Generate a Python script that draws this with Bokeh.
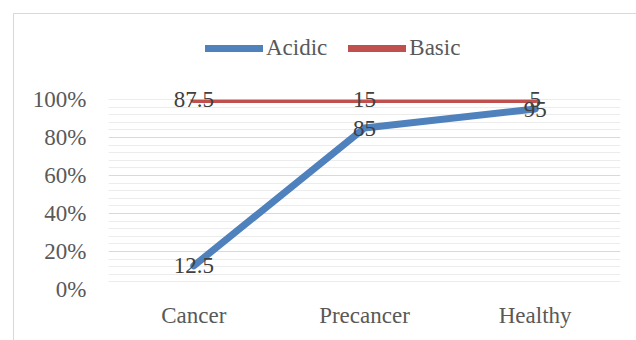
from bokeh.plotting import figure
from bokeh.models import (FactorRange, Range1d, FixedTicker, ColumnDataSource,
                          LabelSet, Legend, LegendItem, NumeralTickFormatter,
                          BoxAnnotation)
from bokeh.core.properties import value
from bokeh.embed import file_html
from bokeh.resources import INLINE

# ---- data ----
categories = ["Cancer", "Precancer", "Healthy"]
acidic = [12.5, 85, 95]
basic = [87.5, 15, 5]
series_names = ["Acidic", "Basic"]
y_ticks = [0, 0.2, 0.4, 0.6, 0.8, 1.0]

# 100% stacked positions
acid_pos = [a / 100 for a in acidic]
basic_pos = [(a + b) / 100 for a, b in zip(acidic, basic)]

src = ColumnDataSource(dict(
    x=categories,
    y_acid=acid_pos,
    y_basic=basic_pos,
    lab_acid=[f"{v:g}" for v in acidic],
    lab_basic=[f"{v:g}" for v in basic],
))

FONT = "Liberation Serif"

# layout (pixels): frame spans whole canvas height above the x axis,
# the 100% gridline sits 85 px below the canvas top
FRAME_H = 275
GRID_H = 190
y_end = y_ticks[-1] * FRAME_H / GRID_H

p = figure(x_range=FactorRange(*categories), y_range=Range1d(0, y_end),
           width=622, height=326, output_backend="svg", toolbar_location=None,
           min_border_left=94, min_border_right=16, min_border_top=0,
           min_border_bottom=51, margin=(14, 0, 0, 14),
           styles={"outline": "1px solid #d9d9d9"})
p.outline_line_color = None
p.background_fill_color = "white"
p.border_fill_color = "white"

minor = [round(i * 0.04, 2) for i in range(1, 25) if i % 5 != 0]
ticker = FixedTicker(ticks=y_ticks, minor_ticks=minor)
p.yaxis.ticker = ticker
p.ygrid.ticker = ticker
p.xgrid.grid_line_color = None
p.ygrid.grid_line_color = "#d9d9d9"
p.ygrid.grid_line_width = 1
p.ygrid.minor_grid_line_color = "#ececec"
p.ygrid.minor_grid_line_width = 1

p.yaxis.formatter = NumeralTickFormatter(format="0%")
for ax in (p.xaxis, p.yaxis):
    ax.axis_line_color = None
    ax.major_tick_line_color = None
    ax.minor_tick_line_color = None
    ax.major_tick_out = 0
    ax.major_tick_in = 0
    ax.major_label_text_font = FONT
    ax.major_label_text_font_size = "23px"
    ax.major_label_text_color = "#595959"
p.yaxis.major_label_standoff = 18
p.xaxis.major_label_standoff = 13

r_a = p.line("x", "y_acid", source=src, line_color="#4F81BD", line_width=7,
             line_cap="round", line_join="round")
r_b = p.line("x", "y_basic", source=src, line_color="#C0504D", line_width=7,
             line_cap="round", line_join="round")

# the chart's plot area ends at 100%: hide what lies above it
p.add_layout(BoxAnnotation(bottom=y_ticks[-1], fill_color="white", fill_alpha=1,
                           line_alpha=0, level="glyph"))

for ycol, tcol in (("y_acid", "lab_acid"), ("y_basic", "lab_basic")):
    p.add_layout(LabelSet(x="x", y=ycol, text=tcol, source=src,
                          text_align="center", text_baseline="middle",
                          text_font=value(FONT), text_font_size=value("23px"),
                          text_color="#404040"))

legend = Legend(items=[LegendItem(label=series_names[0], renderers=[r_a]),
                       LegendItem(label=series_names[1], renderers=[r_b])],
                orientation="horizontal", location=(97, 227),
                glyph_width=58, glyph_height=28, label_height=28,
                label_standoff=3, spacing=21,
                padding=0, margin=0, border_line_color=None,
                background_fill_alpha=0, label_text_font=FONT,
                label_text_font_size="23px", label_text_color="#595959")
p.add_layout(legend)

open("out.html", "w").write(file_html(p, INLINE))
